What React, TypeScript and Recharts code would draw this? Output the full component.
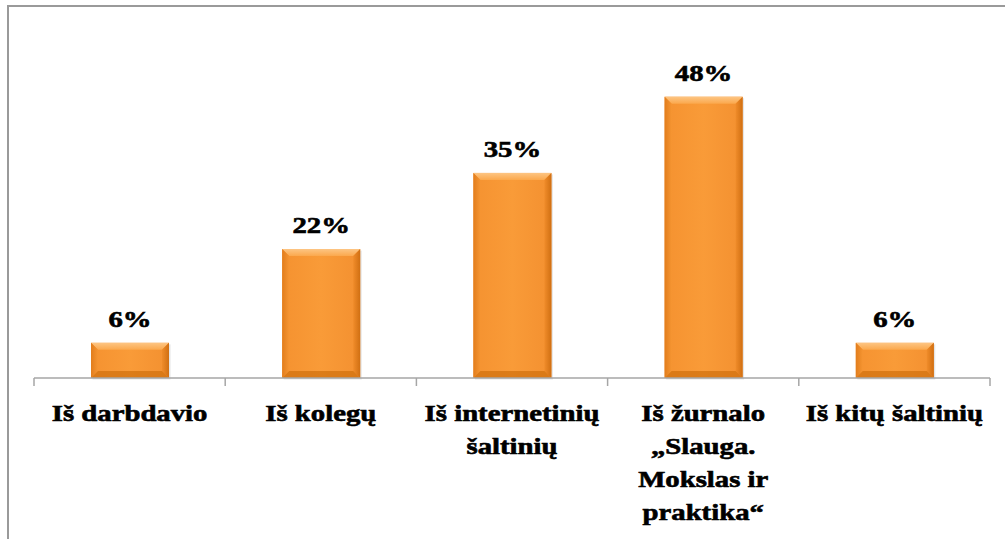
import { BarChart, Bar, XAxis, YAxis, LabelList } from 'recharts'

// Source categories (line breaks as in the original labels)
const categories = [
  'Iš darbdavio',
  'Iš kolegų',
  'Iš internetinių\nšaltinių',
  'Iš žurnalo\n„Slauga.\nMokslas ir\npraktika“',
  'Iš kitų šaltinių',
]

// Share of respondents, %
const values = [6, 22, 35, 48, 6]

const data = categories.map((name, i) => ({ name, value: values[i] }))

const FONT = '"Liberation Serif", "Times New Roman", serif'
const STRETCH = 1.25

function CategoryTick(props: any) {
  const { x, y, payload, index } = props
  const half = payload?.offset || 95.6
  const lines = String(payload.value).split('\n')
  return (
    <g>
      <line x1={x - half} y1={y} x2={x - half} y2={y + 8} stroke="#a6a6a6" strokeWidth={1.5} />
      {index === categories.length - 1 && (
        <line x1={x + half} y1={y} x2={x + half} y2={y + 8} stroke="#a6a6a6" strokeWidth={1.5} />
      )}
      <g transform={`translate(${x},${y}) scale(${STRETCH},1)`}>
        <text
          textAnchor="middle"
          fontFamily={FONT}
          fontWeight="bold"
          fontSize={23}
          fill="#000"
          stroke="#000"
          strokeWidth={0.6}
        >
          {lines.map((l, i) => (
            <tspan key={i} x={0} y={43 + i * 33}>{l}</tspan>
          ))}
        </text>
      </g>
    </g>
  )
}

function ValueLabel(props: any) {
  const { x, y, width, value } = props
  return (
    <g transform={`translate(${x + width / 2},${y - 16}) scale(${STRETCH},1)`}>
      <text
        textAnchor="middle"
        fontFamily={FONT}
        fontWeight="bold"
        fontSize={23}
        fill="#000"
        stroke="#000"
        strokeWidth={0.6}
      >
        {value}%
      </text>
    </g>
  )
}

// bevelled orange bar, like the office "preset" look
function BevelBar(props: any) {
  const { x, y, width, height } = props
  if (!height || height <= 0) return null
  const b = Math.min(7, height / 3)
  return (
    <g>
      <rect x={x + 1.5} y={y + 1.5} width={width} height={height} fill="#000" opacity={0.1} />
      <rect x={x} y={y} width={width} height={height} fill="url(#barBody)" />
      {/* top bevel */}
      <polygon
        points={`${x},${y} ${x + width},${y} ${x + width - b},${y + b} ${x + b},${y + b}`}
        fill="url(#barTop)"
      />
      {/* left bevel */}
      <polygon
        points={`${x},${y} ${x + b},${y + b} ${x + b},${y + height - b} ${x},${y + height}`}
        fill="url(#barLeft)"
      />
      {/* right bevel */}
      <polygon
        points={`${x + width},${y} ${x + width - b},${y + b} ${x + width - b},${y + height - b} ${x + width},${y + height}`}
        fill="url(#barRight)"
      />
      {/* bottom bevel */}
      <polygon
        points={`${x},${y + height} ${x + b},${y + height - b} ${x + width - b},${y + height - b} ${x + width},${y + height}`}
        fill="#d2720f"
        opacity={0.75}
      />
    </g>
  )
}

export default function App() {
  return (
    <div style={{ position: 'absolute', left: 0, top: 0, width: 1005, height: 539, overflow: 'hidden', background: '#fff' }}>
      <div
        style={{
          position: 'absolute',
          left: 7,
          top: 5,
          width: 1010,
          height: 550,
          borderLeft: '2px solid #9a9a9a',
          borderTop: '2px solid #9a9a9a',
        }}
      />
      <div style={{ position: 'absolute', left: 0, top: 0 }}>
        <BarChart
          width={1005}
          height={539}
          data={data}
          margin={{ top: 85, right: 15, left: 34, bottom: 30 }}
        >
          <defs>
            <linearGradient id="barBody" x1="0" y1="0" x2="1" y2="0">
              <stop offset="0%" stopColor="#f59230" />
              <stop offset="50%" stopColor="#f99b38" />
              <stop offset="100%" stopColor="#f39030" />
            </linearGradient>
            <linearGradient id="barTop" x1="0" y1="0" x2="0" y2="1">
              <stop offset="0%" stopColor="#fdc583" />
              <stop offset="100%" stopColor="#fba84c" />
            </linearGradient>
            <linearGradient id="barLeft" x1="0" y1="0" x2="1" y2="0">
              <stop offset="0%" stopColor="#e27d1c" />
              <stop offset="100%" stopColor="#f59532" />
            </linearGradient>
            <linearGradient id="barRight" x1="0" y1="0" x2="1" y2="0">
              <stop offset="0%" stopColor="#f08c2a" />
              <stop offset="100%" stopColor="#d06f12" />
            </linearGradient>
          </defs>
          <XAxis
            dataKey="name"
            interval={0}
            height={131}
            tickLine={false}
            tickSize={0}
            tickMargin={0}
            axisLine={{ stroke: '#a6a6a6', strokeWidth: 1.5 }}
            tick={<CategoryTick />}
          />
          <YAxis hide domain={[0, 50]} />
          <Bar dataKey="value" barSize={78} shape={<BevelBar />} isAnimationActive={false}>
            <LabelList dataKey="value" content={<ValueLabel />} />
          </Bar>
        </BarChart>
      </div>
    </div>
  )
}
